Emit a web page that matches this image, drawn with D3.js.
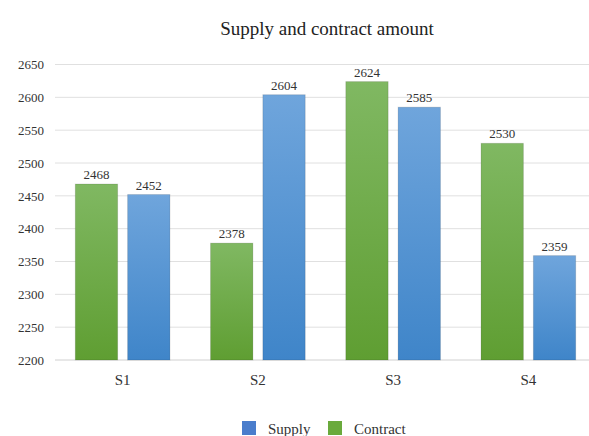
<!DOCTYPE html>
<html>
<head>
<meta charset="utf-8">
<script src="https://cdn.jsdelivr.net/npm/d3@7"></script>
<style>
  body { margin: 0; background: #fff; }
  svg { display: block; }
  svg text { font-family: "Liberation Serif", "Times New Roman", serif !important; }
</style>
</head>
<body>
<svg id="chart" width="589" height="436"></svg>
<script>
const categories = ["S1", "S2", "S3", "S4"];
const contract = [2468, 2378, 2624, 2530];
const supply = [2452, 2604, 2585, 2359];
const yTicks = [2200, 2250, 2300, 2350, 2400, 2450, 2500, 2550, 2600, 2650];

const svg = d3.select("#chart");

// ─── Scales ───
const x0 = d3.scaleBand().domain(categories).range([55, 596])
  .paddingInner(0.3).paddingOuter(0.15);
const x1 = d3.scaleBand().domain(["Contract", "Supply"])
  .range([0, x0.bandwidth()]).paddingInner(0.19);
const y = d3.scaleLinear().domain([2200, 2650]).range([360, 64.5]);

// gradients
const defs = svg.append("defs");
function grad(id, top, bottom) {
  const g = defs.append("linearGradient").attr("id", id)
    .attr("x1", 0).attr("y1", 0).attr("x2", 0).attr("y2", 1);
  g.append("stop").attr("offset", "0%").attr("stop-color", top);
  g.append("stop").attr("offset", "100%").attr("stop-color", bottom);
}
grad("gGreen", "#80b862", "#5f9e32");
grad("gBlue", "#6fa5dc", "#3f85c9");

// ─── Grid ───
svg.append("g").selectAll("line").data(yTicks).join("line")
  .attr("x1", 55).attr("x2", 589)
  .attr("y1", d => y(d)).attr("y2", d => y(d))
  .attr("stroke", d => d === 2200 ? "#d0d0d0" : "#e0e0e0")
  .attr("stroke-width", 1);

// y axis labels
const yAxis = svg.append("g").attr("transform", "translate(55,0)")
  .call(d3.axisLeft(y).tickValues(yTicks).tickSize(0).tickPadding(11).tickFormat(d3.format("d")));
yAxis.select(".domain").remove();
yAxis.selectAll("text").attr("font-size", 13).attr("fill", "#333");

// x axis labels
const xAxis = svg.append("g").attr("transform", "translate(0,362)")
  .call(d3.axisBottom(x0).tickSize(0).tickPadding(12));
xAxis.select(".domain").remove();
xAxis.selectAll("text").attr("font-size", 15).attr("fill", "#333");

// ─── Bars ───
const rows = categories.map((c, i) => ({
  cat: c,
  vals: [
    { key: "Contract", v: contract[i], fill: "url(#gGreen)" },
    { key: "Supply", v: supply[i], fill: "url(#gBlue)" },
  ],
}));

const groups = svg.append("g").selectAll("g").data(rows).join("g")
  .attr("transform", d => `translate(${x0(d.cat)},0)`);

groups.selectAll("rect").data(d => d.vals).join("rect")
  .attr("x", d => x1(d.key))
  .attr("y", d => y(d.v))
  .attr("width", x1.bandwidth())
  .attr("height", d => y(2200) - y(d.v))
  .attr("fill", d => d.fill)
  .attr("stroke", "rgba(0,0,0,0.12)")
  .attr("stroke-width", 1);

groups.selectAll("text").data(d => d.vals).join("text")
  .attr("x", d => x1(d.key) + x1.bandwidth() / 2)
  .attr("y", d => y(d.v) - 5)
  .attr("text-anchor", "middle")
  .attr("font-size", 13)
  .attr("fill", "#333")
  .text(d => d.v);

// ─── Title ───
svg.append("text").attr("x", 327).attr("y", 35)
  .attr("text-anchor", "middle").attr("font-size", 19).attr("fill", "#222")
  .text("Supply and contract amount");

// ─── Legend ───
const legend = [
  { name: "Supply", color: "#4a7dcc", x: 242 },
  { name: "Contract", color: "#6aaa3c", x: 328 },
];
const lg = svg.append("g").selectAll("g").data(legend).join("g")
  .attr("transform", d => `translate(${d.x},421)`);
lg.append("rect").attr("width", 14).attr("height", 14).attr("fill", d => d.color);
lg.append("text").attr("x", 26).attr("y", 13).attr("font-size", 15).attr("fill", "#333")
  .text(d => d.name);
</script>
</body>
</html>
